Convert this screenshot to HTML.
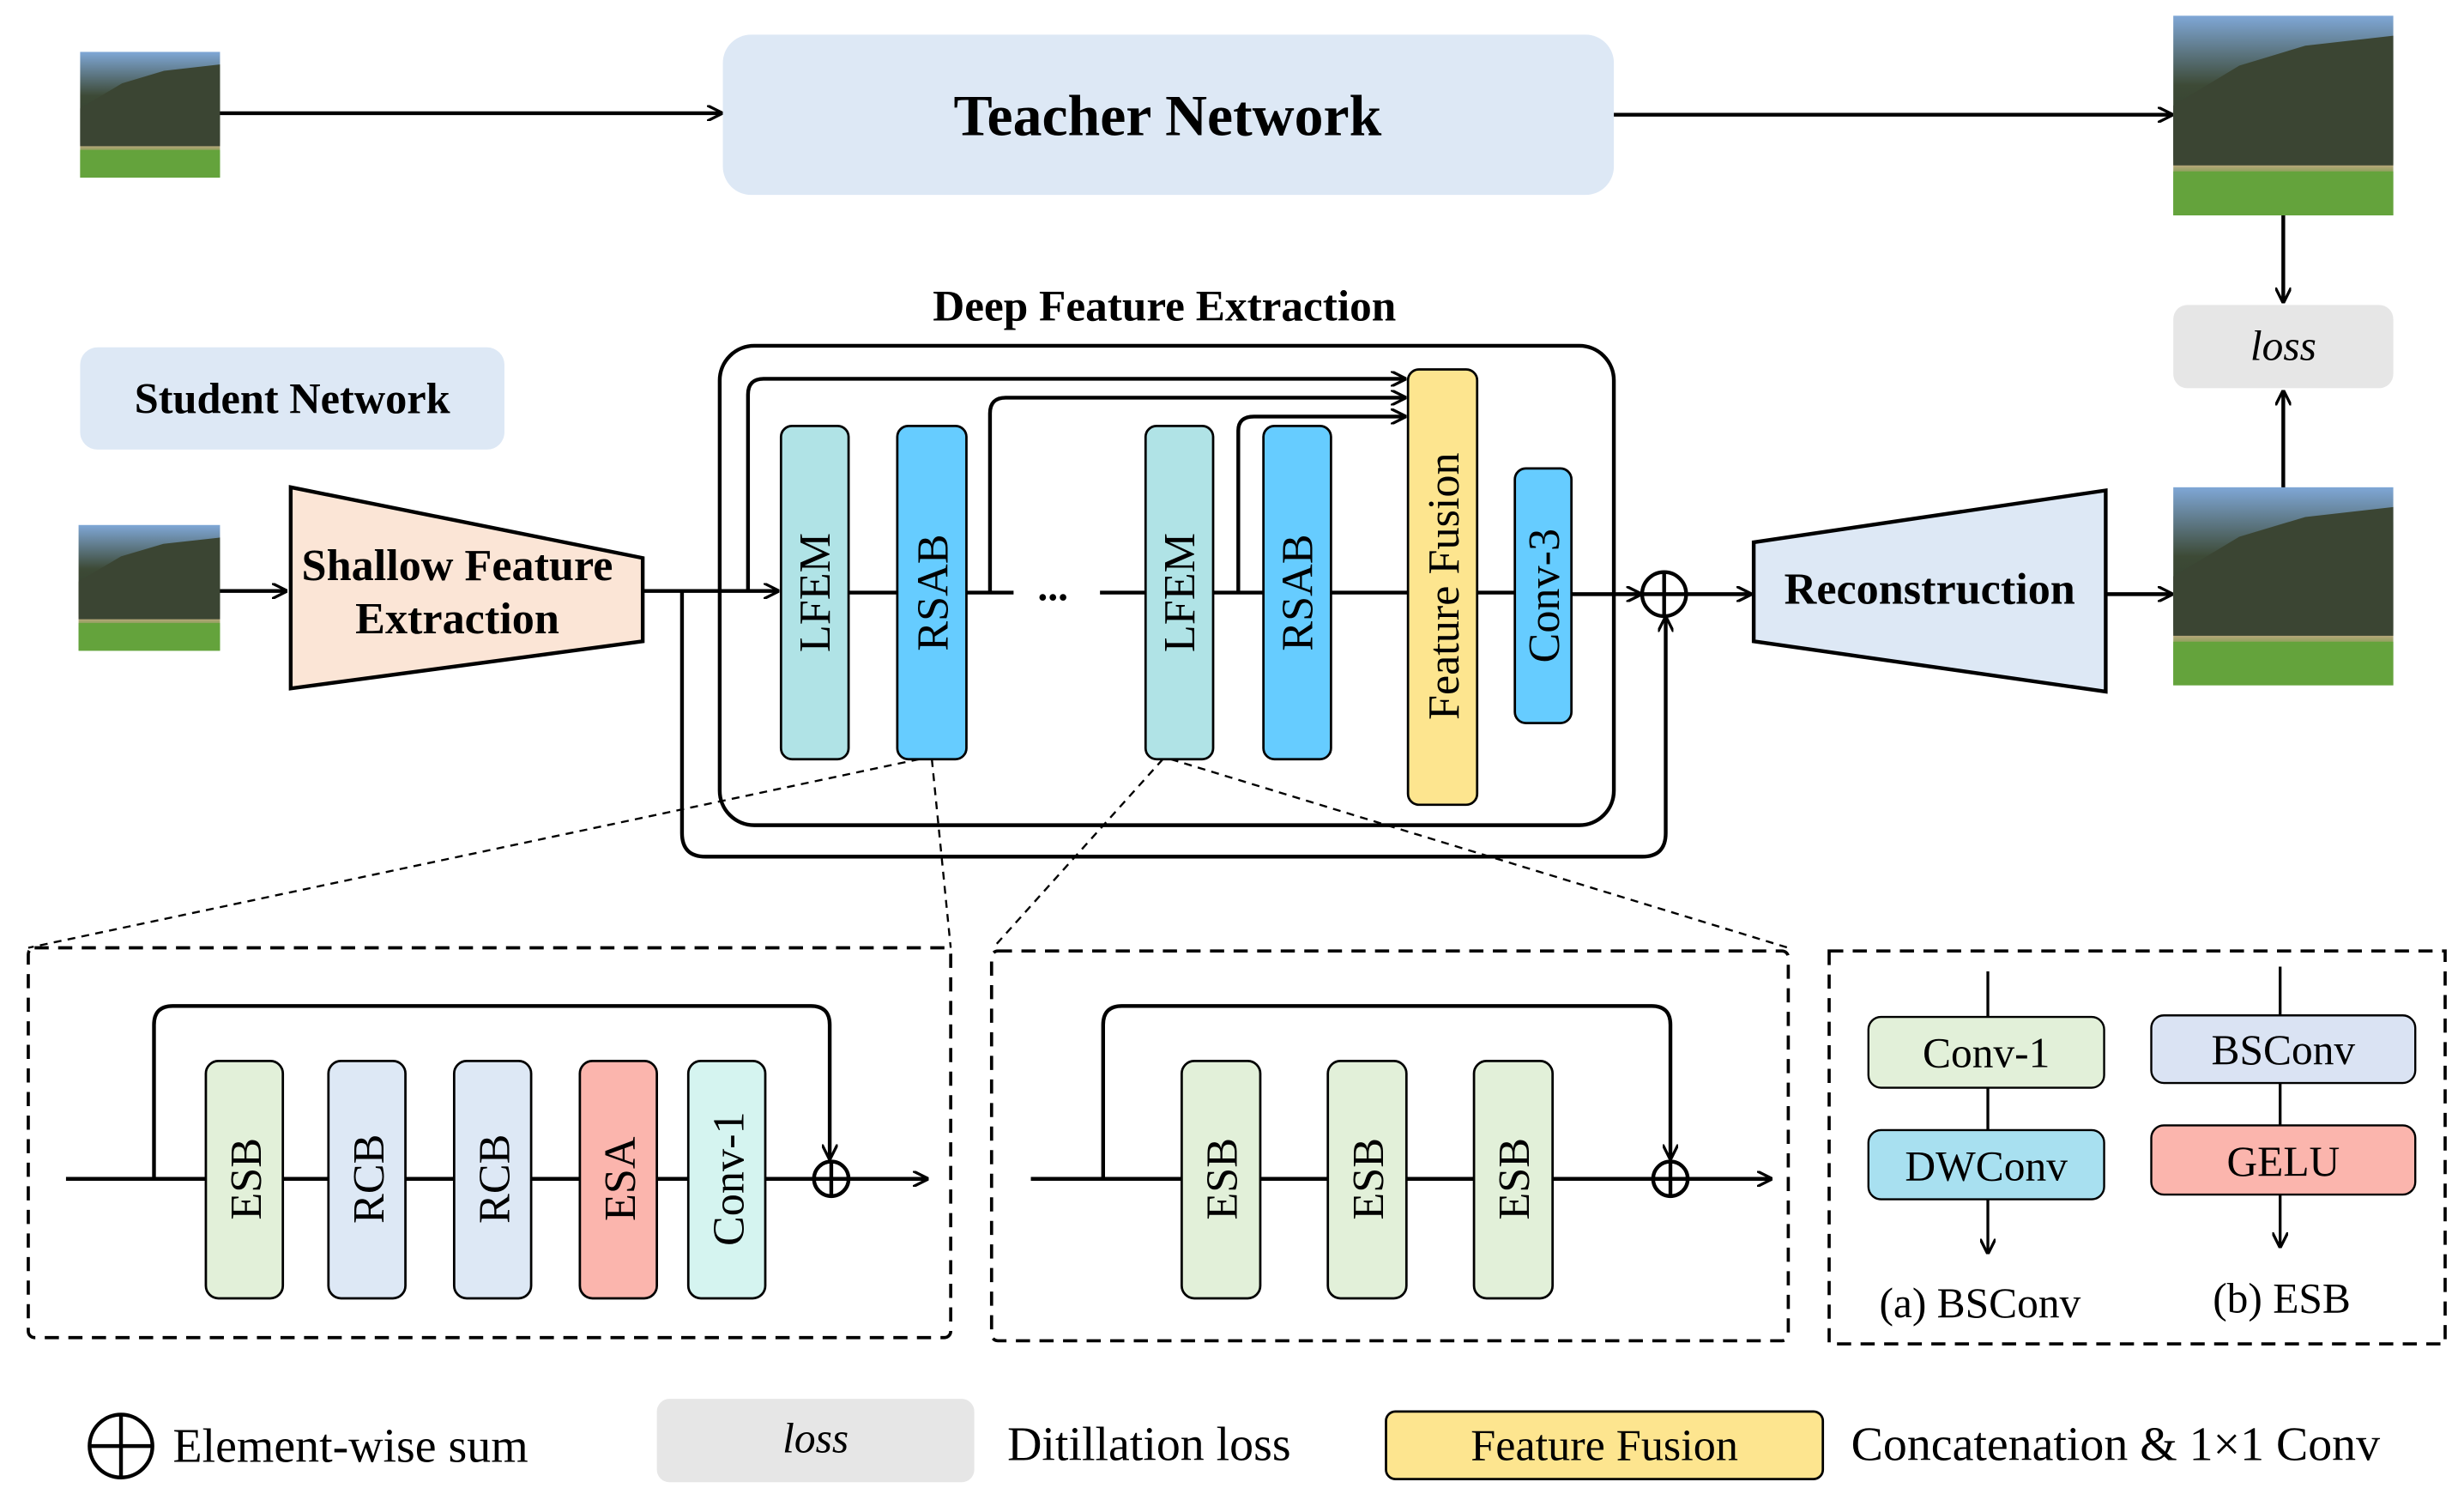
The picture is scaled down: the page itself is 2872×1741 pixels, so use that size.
<!DOCTYPE html>
<html><head><meta charset="utf-8"><style>html,body{margin:0;padding:0;background:#fff}svg{display:block}</style></head>
<body>
<svg width="2872" height="1741" viewBox="0 0 1568 950.5" xmlns="http://www.w3.org/2000/svg" font-family="Liberation Serif, serif">
<defs>
<marker id="a" viewBox="0 0 10 10" refX="9" refY="5" markerWidth="10" markerHeight="10" orient="auto-start-reverse" markerUnits="userSpaceOnUse"><path d="M0,0 L10,5 L0,10" fill="none" stroke="#000" stroke-width="1.8"/></marker>
<linearGradient id="sky" x1="0" y1="0" x2="0" y2="1"><stop offset="0" stop-color="#7fa7d6"/><stop offset="0.35" stop-color="#3d4a36"/><stop offset="0.7" stop-color="#2e3a2a"/><stop offset="0.75" stop-color="#b7a77a"/><stop offset="0.82" stop-color="#5d9a3a"/><stop offset="1" stop-color="#6aa83f"/></linearGradient>
<g id="img"><rect width="1" height="1" fill="url(#sky)"/><path d="M0,0.45 L0.3,0.25 L0.6,0.15 L1,0.1 L1,0.75 L0,0.75Z" fill="#3b4533"/><rect y="0.78" width="1" height="0.22" fill="#64a33c"/></g>
</defs>
<g stroke="#000" stroke-width="2.4" fill="none">
<use href="#img" transform="translate(51,33) scale(89,80)" stroke="none"/>
<use href="#img" transform="translate(1383,10) scale(140,127)" stroke="none"/>
<use href="#img" transform="translate(50,334) scale(90,80)" stroke="none"/>
<use href="#img" transform="translate(1383,310) scale(140,126)" stroke="none"/>
<line x1="140" y1="72" x2="459" y2="72" marker-end="url(#a)"/>
<rect x="460" y="22" width="567" height="102" rx="18" fill="#dde8f5" stroke="none"/>
<line x1="1027" y1="73" x2="1382" y2="73" marker-end="url(#a)"/>
<line x1="1453" y1="137" x2="1453" y2="192" marker-end="url(#a)"/>
<rect x="1383" y="194" width="140" height="53" rx="9" fill="#e6e6e6" stroke="none"/>
<line x1="1453" y1="310" x2="1453" y2="249" marker-end="url(#a)"/>
<rect x="51" y="221" width="270" height="65" rx="11" fill="#dde8f5" stroke="none"/>
<line x1="140" y1="376" x2="182" y2="376" marker-end="url(#a)"/>
<polygon points="185,310 409,355 409,408 185,438" fill="#fbe5d6"/>
<path d="M409,376 L495,376" marker-end="url(#a)"/>
<path d="M434,376 L434,530 Q434,545 449,545 L1045,545 Q1060,545 1060,530 L1060,393" marker-end="url(#a)"/>
<rect x="458" y="220" width="569" height="305" rx="22"/>
<path d="M476,376 L476,251 Q476,241 486,241 L894,241" marker-end="url(#a)"/>
<path d="M630,377 L630,263 Q630,253 640,253 L894,253" marker-end="url(#a)"/>
<path d="M788,377 L788,274 Q788,265 798,265 L894,265" marker-end="url(#a)"/>
<line x1="540" y1="377" x2="571" y2="377"/>
<line x1="615" y1="377" x2="645" y2="377"/>
<line x1="700" y1="377" x2="729" y2="377"/>
<line x1="772" y1="377" x2="804" y2="377"/>
<line x1="847" y1="377" x2="896" y2="377"/>
<line x1="940" y1="377" x2="964" y2="377"/>
<line x1="1000" y1="378" x2="1044" y2="378" marker-end="url(#a)"/>
<circle cx="1059" cy="378" r="14"/><line x1="1045" y1="378" x2="1073" y2="378"/><line x1="1059" y1="364" x2="1059" y2="392"/>
<line x1="1073" y1="378" x2="1114" y2="378" marker-end="url(#a)"/>
<polygon points="1116,345 1340,312 1340,440 1116,408" fill="#dde8f5"/>
<line x1="1340" y1="378" x2="1382" y2="378" marker-end="url(#a)"/>
<g stroke-width="1.5">
<rect x="497" y="271" width="43" height="212" rx="7" fill="#b0e3e6"/>
<rect x="571" y="271" width="44" height="212" rx="7" fill="#66ccff"/>
<rect x="729" y="271" width="43" height="212" rx="7" fill="#b0e3e6"/>
<rect x="804" y="271" width="43" height="212" rx="7" fill="#66ccff"/>
<rect x="896" y="235" width="44" height="277" rx="7" fill="#fde58f"/>
<rect x="964" y="298" width="36" height="162" rx="7" fill="#66ccff"/>
</g>
<g stroke-width="1.3" stroke-dasharray="5,4">
<line x1="585" y1="483" x2="18" y2="603"/>
<line x1="593" y1="483" x2="605" y2="603"/>
<line x1="740" y1="483" x2="632" y2="603"/>
<line x1="745" y1="483" x2="1138" y2="603"/>
</g>
<g stroke-width="2" stroke-dasharray="9,6">
<rect x="18" y="603" width="587" height="248" rx="4"/>
<rect x="631" y="605" width="507" height="248" rx="4"/>
<rect x="1164" y="605" width="392" height="250"/>
</g>
<line x1="42" y1="750" x2="590" y2="750" marker-end="url(#a)"/>
<path d="M98,750 L98,652 Q98,640 110,640 L516,640 Q528,640 528,652 L528,737" marker-end="url(#a)"/>
<circle cx="529" cy="750" r="11" fill="#fff"/><line x1="518" y1="750" x2="540" y2="750"/><line x1="529" y1="739" x2="529" y2="761"/>
<g stroke-width="1.5">
<rect x="131" y="675" width="49" height="151" rx="8" fill="#e2f0d9"/>
<rect x="209" y="675" width="49" height="151" rx="8" fill="#dde8f5"/>
<rect x="289" y="675" width="49" height="151" rx="8" fill="#dde8f5"/>
<rect x="369" y="675" width="49" height="151" rx="8" fill="#fbb5ad"/>
<rect x="438" y="675" width="49" height="151" rx="8" fill="#d5f4f0"/>
</g>
<line x1="656" y1="750" x2="1127" y2="750" marker-end="url(#a)"/>
<path d="M702,750 L702,652 Q702,640 714,640 L1051,640 Q1063,640 1063,652 L1063,737" marker-end="url(#a)"/>
<circle cx="1063" cy="750" r="11" fill="#fff"/><line x1="1052" y1="750" x2="1074" y2="750"/><line x1="1063" y1="739" x2="1063" y2="761"/>
<g stroke-width="1.5">
<rect x="752" y="675" width="50" height="151" rx="8" fill="#e2f0d9"/>
<rect x="845" y="675" width="50" height="151" rx="8" fill="#e2f0d9"/>
<rect x="938" y="675" width="50" height="151" rx="8" fill="#e2f0d9"/>
</g>
<g stroke-width="1.8">
<line x1="1265" y1="618" x2="1265" y2="647"/><line x1="1265" y1="692" x2="1265" y2="719"/><line x1="1265" y1="763" x2="1265" y2="797" marker-end="url(#a)"/>
<line x1="1451" y1="615" x2="1451" y2="646"/><line x1="1451" y1="689" x2="1451" y2="716"/><line x1="1451" y1="760" x2="1451" y2="793" marker-end="url(#a)"/>
<rect x="1189" y="647" width="150" height="45" rx="8" fill="#e2f0d9" stroke-width="1.3"/>
<rect x="1189" y="719" width="150" height="44" rx="8" fill="#a8e0f0" stroke-width="1.3"/>
<rect x="1369" y="646" width="168" height="43" rx="8" fill="#dae3f3" stroke-width="1.3"/>
<rect x="1369" y="716" width="168" height="44" rx="8" fill="#fbb5ad" stroke-width="1.3"/>
</g>
<circle cx="77" cy="920" r="20"/><line x1="57" y1="920" x2="97" y2="920"/><line x1="77" y1="900" x2="77" y2="940"/>
<rect x="418" y="890" width="202" height="53" rx="8" fill="#e6e6e6" stroke="none"/>
<rect x="882" y="898" width="278" height="43" rx="6" fill="#fde58f" stroke-width="1.5"/>
</g>
<g fill="#000" text-anchor="middle">
<text x="743" y="86" font-size="37" font-weight="bold">Teacher Network</text>
<text x="1453" y="229" font-size="27" font-style="italic">loss</text>
<text x="186" y="263" font-size="27.5" font-weight="bold">Student Network</text>
<text x="741" y="204" font-size="28" font-weight="bold">Deep Feature Extraction</text>
<text x="291" y="369" font-size="28.5" font-weight="bold">Shallow Feature</text>
<text x="291" y="403" font-size="28.5" font-weight="bold">Extraction</text>
<text x="1228" y="384" font-size="28.5" font-weight="bold">Reconstruction</text>
<text x="670" y="382" font-size="26" font-weight="bold">...</text>
<g font-size="28.5">
<text transform="translate(528,377) rotate(-90)">LFEM</text>
<text transform="translate(603,377) rotate(-90)">RSAB</text>
<text transform="translate(760,377) rotate(-90)">LFEM</text>
<text transform="translate(835,377) rotate(-90)">RSAB</text>
<text transform="translate(928,373) rotate(-90)">Feature Fusion</text>
<text transform="translate(992,379) rotate(-90)">Conv-3</text>
<text transform="translate(166,750) rotate(-90)">ESB</text>
<text transform="translate(244,750) rotate(-90)">RCB</text>
<text transform="translate(324,750) rotate(-90)">RCB</text>
<text transform="translate(404,750) rotate(-90)">ESA</text>
<text transform="translate(473,750) rotate(-90)">Conv-1</text>
<text transform="translate(787,750) rotate(-90)">ESB</text>
<text transform="translate(880,750) rotate(-90)">ESB</text>
<text transform="translate(973,750) rotate(-90)">ESB</text>
</g>
<g font-size="27">
<text x="1264" y="679">Conv-1</text>
<text x="1264" y="751">DWConv</text>
<text x="1453" y="677">BSConv</text>
<text x="1453" y="748">GELU</text>
<text x="1260" y="838">(a) BSConv</text>
<text x="1452" y="835">(b) ESB</text>
<text x="519" y="924" font-style="italic">loss</text>
<text x="1021" y="929" font-size="28.5">Feature Fusion</text>
</g>
</g>
<g fill="#000" font-size="30.5">
<text x="110" y="930">Element-wise sum</text>
<text x="641" y="929">Ditillation loss</text>
<text x="1178" y="929">Concatenation &amp; 1×1 Conv</text>
</g>
</svg>
</body></html>
